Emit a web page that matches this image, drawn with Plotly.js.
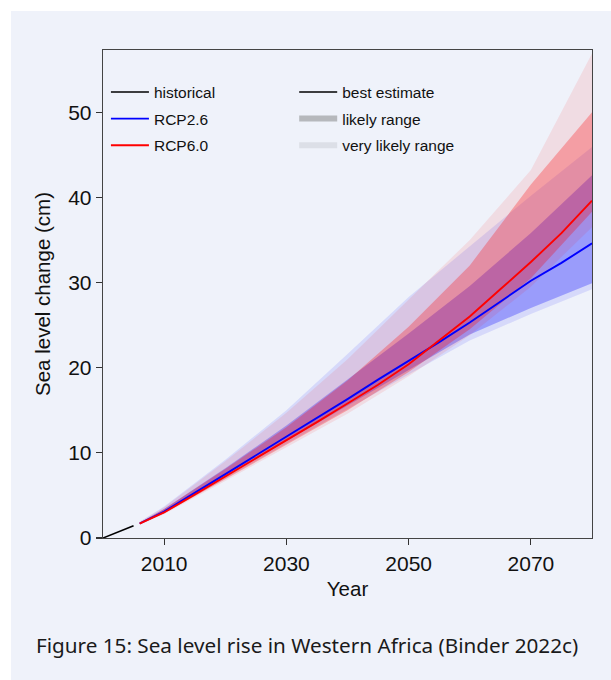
<!DOCTYPE html>
<html>
<head>
<meta charset="utf-8">
<script src="https://cdn.plot.ly/plotly-3.0.1.min.js"></script>
<style>
  html, body { margin: 0; padding: 0; background: #ffffff; }
  #bg { position: absolute; left: 11px; top: 11px; width: 600px; height: 669px; background: #eff2fa; }
  #plot { position: absolute; left: 0; top: 0; width: 611px; height: 680px; }
</style>
</head>
<body>
<div id="bg"></div>
<div id="plot"></div>
<script>
// ---- data ----
const historicalYears = [2000, 2005];
const historicalValues = [0.0, 1.45];

const bestYears = [2006, 2010, 2015, 2020, 2025, 2030, 2035, 2040, 2045, 2050, 2055, 2060, 2065, 2070, 2075, 2080];
const rcp26Best = [1.7, 3.1, 5.3, 7.5, 9.7, 11.9, 14.1, 16.3, 18.6, 20.8, 23.0, 25.3, 27.8, 30.2, 32.3, 34.6];
const rcp60Best = [1.7, 3.0, 5.1, 7.2, 9.3, 11.5, 13.6, 15.8, 18.0, 20.4, 23.2, 26.0, 29.2, 32.4, 35.8, 39.6];

const bandYears = [2006, 2010, 2020, 2030, 2040, 2050, 2060, 2070, 2080];
const rcp26LikelyLow   = [1.7, 3.0, 7.2, 11.4, 15.5, 19.8, 23.9, 27.0, 29.9];
const rcp26LikelyHigh  = [1.8, 3.4, 8.2, 13.2, 18.6, 24.0, 29.6, 35.8, 42.6];
const rcp26VLikelyLow  = [1.6, 2.9, 7.0, 11.1, 15.1, 19.2, 23.2, 26.3, 29.2];
const rcp26VLikelyHigh = [1.9, 3.7, 9.2, 15.0, 21.6, 28.3, 34.2, 40.2, 45.9];
const rcp60LikelyLow   = [1.7, 2.9, 6.9, 11.0, 15.0, 19.5, 24.5, 30.5, 38.3];
const rcp60LikelyHigh  = [1.8, 3.4, 8.1, 13.0, 18.5, 24.8, 32.0, 41.5, 50.0];
const rcp60VLikelyLow  = [1.6, 2.8, 6.7, 10.7, 14.6, 19.0, 23.8, 29.5, 36.5];
const rcp60VLikelyHigh = [1.9, 3.6, 9.0, 14.7, 21.0, 28.0, 35.0, 43.2, 56.9];

const xTicks = [2010, 2030, 2050, 2070];
const yTicks = [0, 10, 20, 30, 40, 50];

const seriesNames = ['historical', 'RCP2.6', 'RCP6.0'];
const styleNames = ['best estimate', 'likely range', 'very likely range'];
const captionText = 'Figure 15: Sea level rise in Western Africa (Binder 2022c)';

// ---- build ----
function band(lo, hi, color) {
  return {
    x: bandYears.concat(bandYears.slice().reverse()),
    y: lo.concat(hi.slice().reverse()),
    type: 'scatter', mode: 'lines', fill: 'toself',
    fillcolor: color, line: { width: 0, color: 'rgba(0,0,0,0)' },
    hoverinfo: 'skip', showlegend: false
  };
}

const traces = [
  band(rcp26VLikelyLow, rcp26VLikelyHigh, 'rgba(0,0,255,0.10)'),
  band(rcp26LikelyLow, rcp26LikelyHigh, 'rgba(0,0,255,0.28)'),
  band(rcp60VLikelyLow, rcp60VLikelyHigh, 'rgba(255,0,0,0.09)'),
  band(rcp60LikelyLow, rcp60LikelyHigh, 'rgba(255,0,0,0.28)'),
  { x: historicalYears, y: historicalValues, type: 'scatter', mode: 'lines',
    line: { color: '#000000', width: 1.6 }, name: seriesNames[0], legendgroup: 'a', legend: 'legend' },
  { x: bestYears, y: rcp26Best, type: 'scatter', mode: 'lines',
    line: { color: '#0000ff', width: 1.9 }, name: seriesNames[1], legendgroup: 'b', legend: 'legend' },
  { x: bestYears, y: rcp60Best, type: 'scatter', mode: 'lines',
    line: { color: '#ff0000', width: 1.9 }, name: seriesNames[2], legendgroup: 'c', legend: 'legend' },
  { x: [null], y: [null], type: 'scatter', mode: 'lines',
    line: { color: '#000000', width: 1.6 }, name: styleNames[0], legendgroup: 'd', legend: 'legend2' },
  { x: [null], y: [null], type: 'scatter', mode: 'lines',
    line: { color: '#b6b8bc', width: 6 }, name: styleNames[1], legendgroup: 'e', legend: 'legend2' },
  { x: [null], y: [null], type: 'scatter', mode: 'lines',
    line: { color: '#dcdfe7', width: 6 }, name: styleNames[2], legendgroup: 'f', legend: 'legend2' }
];

const FONT = 'Liberation Sans, Arial, Helvetica, sans-serif';
const legendCommon = {
  bgcolor: 'rgba(0,0,0,0)', borderwidth: 0,
  font: { family: FONT, size: 15.5, color: '#111' },
  traceorder: 'grouped', tracegroupgap: 3.5, itemwidth: 38,
  xanchor: 'left', yanchor: 'top'
};

const layout = {
  width: 611, height: 680,
  margin: { l: 103, r: 19, t: 50, b: 142 },
  paper_bgcolor: 'rgba(0,0,0,0)',
  plot_bgcolor: 'rgba(0,0,0,0)',
  font: { family: FONT, color: '#111' },
  showlegend: true,
  legend: Object.assign({}, legendCommon, { x: 0.006, y: 0.948 }),
  legend2: Object.assign({}, legendCommon, { x: 0.391, y: 0.948 }),
  xaxis: {
    range: [2000, 2080], tickvals: xTicks, ticktext: xTicks.map(String),
    ticks: 'outside', ticklen: 6, tickwidth: 1.2, tickcolor: '#333',
    showline: true, linecolor: '#444', linewidth: 1.3, mirror: true,
    showgrid: false, zeroline: false,
    tickfont: { family: FONT, size: 21, color: '#111' },
    title: { text: 'Year', font: { family: FONT, size: 20.5, color: '#111' }, standoff: 8 }
  },
  yaxis: {
    range: [0, 57.3], tickvals: yTicks, ticktext: yTicks.map(String),
    ticks: 'outside', ticklen: 6, tickwidth: 1.2, tickcolor: '#333',
    showline: true, linecolor: '#444', linewidth: 1.3, mirror: true,
    showgrid: false, zeroline: false,
    tickfont: { family: FONT, size: 21, color: '#111' },
    title: { text: 'Sea level change (cm)', font: { family: FONT, size: 20.5, color: '#111' }, standoff: 12 }
  },
  annotations: [{
    text: captionText, xref: 'paper', yref: 'paper',
    x: -0.141, y: -0.219, xanchor: 'left', yanchor: 'middle', showarrow: false,
    font: { family: 'Noto Sans, Open Sans, sans-serif', size: 20.7, color: '#1a1a1a' }
  }]
};

Plotly.newPlot('plot', traces, layout, { displayModeBar: false, staticPlot: true });
</script>
</body>
</html>
